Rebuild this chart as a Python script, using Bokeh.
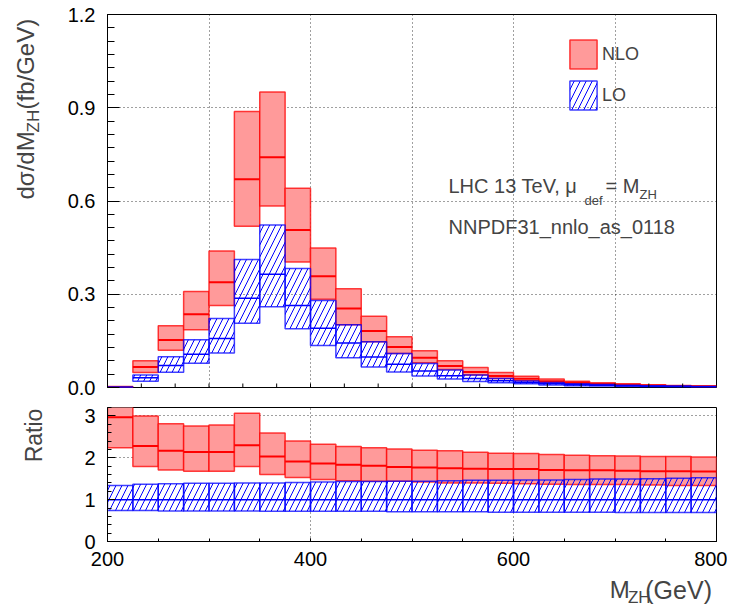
from math import pi
from bokeh.plotting import figure
from bokeh.layouts import column, row
from bokeh.models import (ColumnDataSource, FixedTicker, Label, Legend, LegendItem,
                          Range1d, PrintfTickFormatter)
from bokeh.embed import file_html
from bokeh.resources import INLINE

# ---------------- data ----------------
bin_lo = [200, 225, 250, 275, 300, 325, 350, 375, 400, 425, 450, 475,
          500, 525, 550, 575, 600, 625, 650, 675, 700, 725, 750, 775]
bin_hi = [225, 250, 275, 300, 325, 350, 375, 400, 425, 450, 475, 500,
          525, 550, 575, 600, 625, 650, 675, 700, 725, 750, 775, 800]

nlo_hi = [0.003, 0.086, 0.199, 0.309, 0.439, 0.888, 0.951, 0.641, 0.449, 0.318, 0.229, 0.163,
          0.118, 0.086, 0.064, 0.048, 0.036, 0.027, 0.020, 0.015, 0.012, 0.009, 0.0068, 0.0052]
nlo_c = [0.002, 0.066, 0.153, 0.236, 0.339, 0.670, 0.741, 0.507, 0.358, 0.254, 0.182, 0.130,
         0.096, 0.069, 0.050, 0.037, 0.028, 0.020, 0.015, 0.0115, 0.009, 0.0068, 0.0052, 0.004]
nlo_lo = [0.0015, 0.048, 0.120, 0.186, 0.264, 0.519, 0.584, 0.404, 0.284, 0.202, 0.147, 0.109,
          0.080, 0.058, 0.040, 0.029, 0.022, 0.016, 0.012, 0.009, 0.0068, 0.0052, 0.004, 0.003]

lo_hi = [0.0012, 0.040, 0.099, 0.154, 0.222, 0.412, 0.523, 0.383, 0.280, 0.202, 0.147, 0.109,
         0.077, 0.056, 0.040, 0.029, 0.021, 0.016, 0.012, 0.0095, 0.0075, 0.006, 0.0046, 0.0035]
lo_c = [0.0009, 0.031, 0.071, 0.107, 0.158, 0.287, 0.364, 0.264, 0.191, 0.143, 0.098, 0.075,
        0.053, 0.038, 0.029, 0.022, 0.016, 0.012, 0.009, 0.007, 0.0053, 0.004, 0.0031, 0.0024]
lo_lo = [0.0006, 0.020, 0.049, 0.078, 0.111, 0.207, 0.260, 0.189, 0.135, 0.096, 0.066, 0.050,
         0.037, 0.027, 0.019, 0.015, 0.012, 0.008, 0.006, 0.0048, 0.0037, 0.0028, 0.0021, 0.0016]

rnlo_hi = [3.30, 3.00, 2.81, 2.76, 2.78, 3.06, 2.59, 2.40, 2.32, 2.27, 2.24, 2.21,
           2.18, 2.17, 2.13, 2.11, 2.10, 2.08, 2.06, 2.05, 2.04, 2.03, 2.03, 2.02]
rnlo_c = [2.97, 2.28, 2.17, 2.14, 2.14, 2.30, 2.03, 1.91, 1.86, 1.83, 1.81, 1.78,
          1.77, 1.75, 1.74, 1.73, 1.73, 1.71, 1.70, 1.70, 1.69, 1.68, 1.68, 1.67]
rnlo_lo = [2.24, 1.79, 1.71, 1.68, 1.68, 1.79, 1.60, 1.53, 1.48, 1.45, 1.44, 1.44,
           1.42, 1.40, 1.40, 1.39, 1.38, 1.37, 1.36, 1.36, 1.36, 1.35, 1.34, 1.34]

rlo_hi = [1.34, 1.37, 1.38, 1.39, 1.39, 1.40, 1.40, 1.41, 1.42, 1.43, 1.43, 1.44,
          1.44, 1.45, 1.46, 1.46, 1.47, 1.47, 1.48, 1.49, 1.49, 1.50, 1.51, 1.52]
rlo_c = [1.0] * 24
rlo_lo = [0.74, 0.74, 0.73, 0.73, 0.73, 0.73, 0.72, 0.72, 0.72, 0.72, 0.72, 0.71,
          0.71, 0.71, 0.71, 0.70, 0.70, 0.70, 0.70, 0.70, 0.69, 0.69, 0.69, 0.69]

top_y_ticks = [0.0, 0.3, 0.6, 0.9, 1.2]
top_y_minor = [k * 0.3 / 7 for k in range(29)]
ratio_y_ticks = [0, 1, 2, 3]
ratio_y_minor = [k * 0.2 for k in range(17)]
x_ticks_top = [200, 300, 400, 500, 600, 700, 800]
x_minor_top = [200 + k * 100 / 3 for k in range(19)]
x_ticks_bottom = [200, 400, 600, 800]
x_minor_bottom = [200 + k * 50 for k in range(13)]

# ---------------- style / geometry ----------------
FONT = "Liberation Sans"
RED_FILL = "#ff9a9a"
LEFT_W = 60                # width of the left text strip
FL, FW = 107, 609          # frame left (page px) and width
T_TOP, T_H = 14, 373       # top panel frame
R_TOP, R_H = 407, 134      # ratio panel frame
H1, H2, H3 = 397, 178, 32  # heights of top panel, ratio panel, bottom strip
TOTAL_H = H1 + H2 + H3
COL_W = FL - LEFT_W + FW + 11
CAP = 0.36                 # cap-centre offset above the baseline, in em


def tx(px):
    return 200 + (px - FL) / FW * 600


def ty(py):
    return (T_TOP + T_H - py) / T_H * 1.2


def style_axes(p):
    p.outline_line_color = "black"
    p.outline_line_width = 1
    for ax in p.axis:
        ax.axis_line_color = "black"
        ax.major_tick_line_color = "black"
        ax.minor_tick_line_color = "black"
        ax.major_tick_out = 0
        ax.minor_tick_out = 0
        ax.major_label_text_font = FONT
        ax.major_label_text_font_size = "20px"
        ax.major_label_text_color = "black"
    for g in p.grid:
        g.grid_line_color = "black"
        g.grid_line_alpha = 0.75
        g.grid_line_dash = "1 3"
        g.grid_line_width = 1


def draw_bands(p, hi_n, c_n, lo_n, hi_l, c_l, lo_l):
    src = ColumnDataSource(dict(l=bin_lo, r=bin_hi, nh=hi_n, nc=c_n, nl=lo_n,
                                lh=hi_l, lc=c_l, ll=lo_l))
    r_n = p.quad(left="l", right="r", bottom="nl", top="nh", source=src,
                 fill_color=RED_FILL, fill_alpha=1.0, line_color="red",
                 line_alpha=0.75, line_width=1.5)
    p.segment(x0="l", x1="r", y0="nc", y1="nc", source=src, line_color="red", line_width=2)
    r_l = p.quad(left="l", right="r", bottom="ll", top="lh", source=src,
                 fill_color=None, hatch_pattern="/", hatch_color="blue",
                 hatch_scale=12, hatch_weight=1, line_color="blue",
                 line_alpha=0.75, line_width=1.5)
    p.segment(x0="l", x1="r", y0="lc", y1="lc", source=src, line_color="blue", line_width=1.5)
    return r_n, r_l


def text_strip(width, height):
    f = figure(width=width, height=height, x_range=Range1d(0, width), y_range=Range1d(0, height),
               output_backend="svg", toolbar_location=None, min_border=0,
               x_axis_location=None, y_axis_location=None)
    f.grid.visible = False
    f.outline_line_color = None
    return f


def mid_label(x, y, text, size, **kw):
    return Label(x=x, y=y, text=text, text_font=FONT, text_font_size=f"{size}px",
                 text_baseline="middle", **kw)


# ---------------- top panel ----------------
p1 = figure(width=COL_W, height=H1, x_range=Range1d(200, 800), y_range=Range1d(0, 1.2),
            output_backend="svg", toolbar_location=None,
            min_border_left=FL - LEFT_W, min_border_right=11,
            min_border_top=T_TOP, min_border_bottom=H1 - T_TOP - T_H)
p1.yaxis.ticker = FixedTicker(ticks=top_y_ticks, minor_ticks=top_y_minor)
p1.yaxis.formatter = PrintfTickFormatter(format="%.1f")
style_axes(p1)
p1.xaxis.visible = False
p1.xgrid.ticker = FixedTicker(ticks=x_ticks_top)
p1.yaxis.major_tick_in = 12
p1.yaxis.minor_tick_in = 7
p1.yaxis.major_label_standoff = 12

r_nlo, r_lo = draw_bands(p1, nlo_hi, nlo_c, nlo_lo, lo_hi, lo_c, lo_lo)

# small inward x ticks of the upper panel
tick_len = 4 / T_H * 1.2
p1.segment(x0=x_minor_top, x1=x_minor_top, y0=[0] * len(x_minor_top),
           y1=[tick_len] * len(x_minor_top), line_color="black", line_width=1)

legend = Legend(items=[LegendItem(label="NLO", renderers=[r_nlo]),
                       LegendItem(label="LO", renderers=[r_lo])],
                location=(459, 274), orientation="vertical",
                glyph_width=34, glyph_height=36, label_height=36,
                label_standoff=2, spacing=5, padding=0, margin=0,
                border_line_color=None, background_fill_alpha=0,
                label_text_font=FONT, label_text_font_size="18px")
p1.add_layout(legend)

# annotation text (baselines: 193 / 234; subscripts 205 and 199)
p1.add_layout(mid_label(tx(448), ty(193 - CAP * 20), "LHC 13 TeV, \u03bc", 20))
p1.add_layout(mid_label(tx(584), ty(205 - CAP * 13), "def", 13))
p1.add_layout(mid_label(tx(605), ty(193 - CAP * 20), "= M", 20))
p1.add_layout(mid_label(tx(639), ty(199 - CAP * 13), "ZH", 13))
p1.add_layout(mid_label(tx(448), ty(234 - CAP * 20), "NNPDF31_nnlo_as_0118", 20))

# ---------------- ratio panel ----------------
p2 = figure(width=COL_W, height=H2, x_range=p1.x_range, y_range=Range1d(0, 3.2),
            output_backend="svg", toolbar_location=None,
            min_border_left=FL - LEFT_W, min_border_right=11,
            min_border_top=R_TOP - H1, min_border_bottom=H2 - (R_TOP - H1) - R_H)
p2.xaxis.ticker = FixedTicker(ticks=x_ticks_bottom, minor_ticks=x_minor_bottom)
p2.yaxis.ticker = FixedTicker(ticks=ratio_y_ticks, minor_ticks=ratio_y_minor)
style_axes(p2)
p2.xaxis.major_tick_in = 3
p2.xaxis.minor_tick_in = 3
p2.xaxis.major_label_standoff = 10
p2.yaxis.major_tick_in = 8
p2.yaxis.minor_tick_in = 4
p2.yaxis.major_label_standoff = 12

draw_bands(p2, rnlo_hi, rnlo_c, rnlo_lo, rlo_hi, rlo_c, rlo_lo)

# ---------------- left strip: y-axis titles (rotated) ----------------
left = text_strip(LEFT_W, TOTAL_H)


def ly(py):
    return TOTAL_H - py


left.add_layout(mid_label(34 - CAP * 24, ly(199), "d\u03c3/dM", 24,
                          angle=pi / 2, text_align="left"))
left.add_layout(mid_label(39 - CAP * 17, ly(132), "ZH", 17,
                          angle=pi / 2, text_align="left"))
left.add_layout(mid_label(34 - CAP * 24, ly(109), "(fb/GeV)", 24,
                          angle=pi / 2, text_align="left"))
left.add_layout(mid_label(42 - CAP * 23, ly(435), "Ratio", 23,
                          angle=pi / 2, text_align="center"))

# ---------------- bottom strip: x-axis title ----------------
bottom = text_strip(COL_W, H3)


def bx(px):
    return px - LEFT_W


def by(py):
    return TOTAL_H - py


bottom.add_layout(mid_label(bx(610), by(598 - CAP * 24), "M", 24, text_align="left"))
bottom.add_layout(mid_label(bx(630), by(603 - CAP * 17), "ZH", 17, text_align="left"))
bottom.add_layout(mid_label(bx(649), by(598 - CAP * 24), "(GeV)", 25, text_align="left"))

layout = row(left, column(p1, p2, bottom, spacing=0), spacing=0)
open("out.html", "w").write(file_html(layout, INLINE))
